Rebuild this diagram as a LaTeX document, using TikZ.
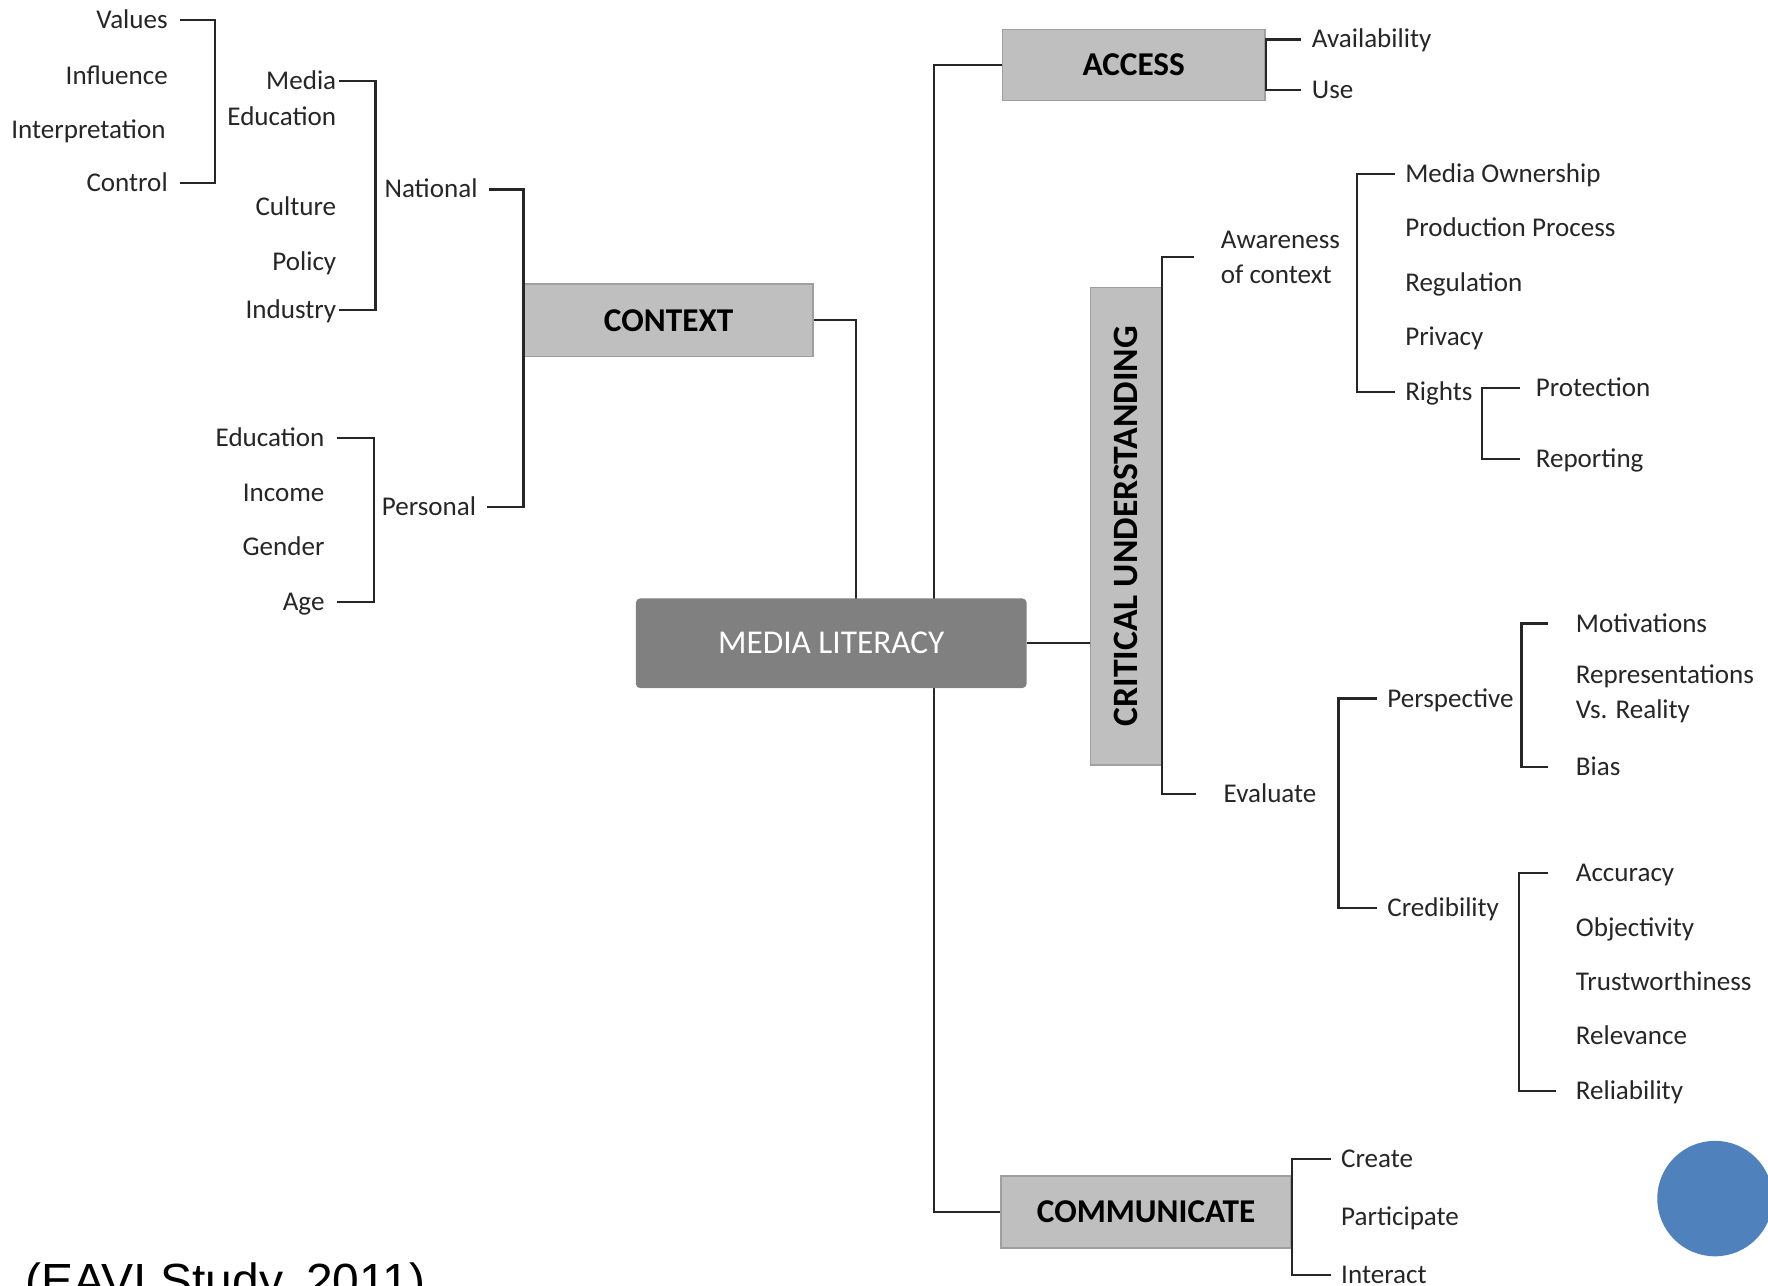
\documentclass[tikz,border=0pt]{standalone}
\usepackage{fontspec}
\setmainfont{Carlito}
\newfontfamily\arialfont{Liberation Sans}
\usepackage{xcolor}
\definecolor{boxgray}{HTML}{BFBFBF}
\definecolor{mlgray}{HTML}{808080}
\definecolor{ink}{HTML}{262626}
\definecolor{dotblue}{HTML}{4F81BD}

\begin{document}
\begin{tikzpicture}[x=0.1mm,y=-0.1mm]
      \useasboundingbox (0,0) rectangle (1568,1140);
      \tikzset{T/.style = {inner xsep=2.5pt, inner ysep=1pt, text=ink, font=\fontsize{6.83}{8.8}\selectfont, text height=4.3pt, text depth=0pt}}
      \tikzset{T2/.style = {inner xsep=2.5pt, inner ysep=1pt, text=ink, font=\fontsize{6.83}{8.8}\selectfont, align=left}}
      \tikzset{B/.style = {shape=rectangle, draw=gray!75, fill=boxgray, inner sep=0pt, text=black, font=\fontsize{8.4}{10}\selectfont\bfseries}}
      \tikzset{E/.style = {draw=ink, line width=0.55pt}}
      % context side
      \node[T,anchor=east,inner xsep=3pt](val) at (160,18) {Values};
      \node[T,anchor=east,inner xsep=3pt](infl) at (160,67) {Influence};
      \node[T,anchor=east,inner xsep=3pt](intp) at (158,115) {Interpretation};
      \node[T,anchor=east,inner xsep=3pt](ctrl) at (160,162) {Control};
      \node[T,anchor=east,inner xsep=0.6pt](med) at (301,71.5) {Media};
      \node[T,anchor=east,inner xsep=0.6pt](edu) at (301,103.5) {Education};
      \node[T,anchor=east,inner xsep=0.6pt](cult) at (301,183.5) {Culture};
      \node[T,anchor=east,inner xsep=0.6pt](pol) at (301,232) {Policy};
      \node[T,anchor=east,inner xsep=0.6pt](ind) at (301,275) {Industry};
      \node[T,anchor=east,inner xsep=2.8pt](nat) at (434,168) {National};
      \node[T,anchor=east,inner xsep=3pt](pedu) at (299,388.5) {Education};
      \node[T,anchor=east,inner xsep=3pt](inc) at (299,437.5) {Income};
      \node[T,anchor=east,inner xsep=3pt](gen) at (299,485) {Gender};
      \node[T,anchor=east,inner xsep=3pt](age) at (299,533.6) {Age};
      \node[T,anchor=east,inner xsep=2.6pt](pers) at (432,449.5) {Personal};
      % boxes
      \node[B,minimum width=25.6mm,minimum height=6.4mm](ctx) at (593,284) {CONTEXT};
      \node[B,minimum width=23.3mm,minimum height=6.3mm](acc) at (1005.5,57.5) {ACCESS};
      \node[B,minimum width=25.7mm,minimum height=6.4mm](comm) at (1016.5,1075) {COMMUNICATE};
      \node[B,rotate=90,minimum width=42.35mm,minimum height=6.3mm,font=\fontsize{9}{11}\selectfont\bfseries](cu) at (998.5,466.75) {CRITICAL UNDERSTANDING};
      % right side
      \node[T,anchor=west](avl) at (1154,35) {Availability};
      \node[T,anchor=west](use) at (1154,80) {Use};
      \node[T2,anchor=west,inner xsep=6.7pt](awr) at (1058.5,228) {Awareness\\of context};
      \node[T,anchor=west,inner xsep=6.7pt](evl) at (1061,704) {Evaluate};
      \node[T,anchor=west](own) at (1236.8,154.3) {Media Ownership};
      \node[T,anchor=west](prod) at (1236.8,202.5) {Production Process};
      \node[T,anchor=west](reg) at (1236.8,250.7) {Regulation};
      \node[T,anchor=west](priv) at (1236.8,298.6) {Privacy};
      \node[T,anchor=west](rgt) at (1236.8,348) {Rights};
      \node[T,anchor=west,inner xsep=3.8pt](prot) at (1348,344) {Protection};
      \node[T,anchor=west,inner xsep=3.8pt](rep) at (1348,407) {Reporting};
      \node[T,anchor=west](psp) at (1221,619.5) {Perspective};
      \node[T,anchor=west](crd) at (1221,805.3) {Credibility};
      \node[T,anchor=west,inner xsep=6.8pt](mot) at (1373,553) {Motivations};
      \node[T2,anchor=west,inner xsep=6.8pt](rvr) at (1373,615) {Representations\\Vs. Reality};
      \node[T,anchor=west,inner xsep=6.8pt](bias) at (1373,680) {Bias};
      \node[T,anchor=west,inner xsep=6.8pt](acy) at (1373,774) {Accuracy};
      \node[T,anchor=west,inner xsep=6.8pt](obj) at (1373,823) {Objectivity};
      \node[T,anchor=west,inner xsep=6.8pt](trw) at (1373,871) {Trustworthiness};
      \node[T,anchor=west,inner xsep=6.8pt](rlv) at (1373,919) {Relevance};
      \node[T,anchor=west,inner xsep=4.8pt](rlb) at (1380,967.5) {Reliability};
      \node[T,anchor=west](crt) at (1180,1028) {Create};
      \node[T,anchor=west](ptc) at (1180,1079) {Participate};
      \node[T,anchor=west](itr) at (1180,1131) {Interact};
      % bracket spines
      \coordinate (s1) at (191,90);
      \coordinate (s2) at (333,190);
      \coordinate (s3) at (332,460);
      \coordinate (s5) at (759,532);
      \coordinate (tr) at (828,560);
      \coordinate (s8) at (1203.6,250);
      \coordinate (s9) at (1314.7,375);
      \coordinate (s10) at (1187,700);
      \coordinate (s11) at (1349.4,615);
      \coordinate (s12) at (1347.4,870);
      \draw[E](val.east) -| (s1) |- (ctrl.east);
      \draw[E](med.east) -| (s2) |- (ind.east);
      \draw[E](pedu.east) -| (s3) |- (age.east);
      \draw[E](nat.east) -| (ctx.west) |- (pers.east);
      \draw[E](ctx.east) -| (s5);
      \draw[E](acc.west) -| (tr) |- (comm.west);
      \draw[E](avl.west) -| (acc.east) |- (use.west);
      \draw[E](awr.west) -| (cu.south) |- (evl.west);
      \draw[E](own.west) -| (s8) |- (rgt.west);
      \draw[E](prot.west) -| (s9) |- (rep.west);
      \draw[E](psp.west) -| (s10) |- (crd.west);
      \draw[E](mot.west) -| (s11) |- (bias.west);
      \draw[E](acy.west) -| (s12) |- (rlb.west);
      \draw[E](crt.west) -| (comm.east) |- (itr.west);
      % centre box on top of the trunk
      \node[fill=mlgray,draw=mlgray,rounded corners=0.3mm,minimum width=34.5mm,minimum height=7.8mm,inner sep=0pt,text=white,font=\fontsize{8.4}{10}\selectfont](ml) at (737.2,570.5) {MEDIA LITERACY};
      \draw[E](ml.east) -- (ml.east -| cu.north);
      \node[circle,fill=dotblue,minimum size=10.24mm,inner sep=0pt](dot) at (1521,1063) {};
      \node[anchor=base west,inner sep=0pt,font=\fontsize{12.1}{14}\arialfont](src) at (22,1150.5) {(EAVI Study, 2011)};
\end{tikzpicture}
\end{document}
